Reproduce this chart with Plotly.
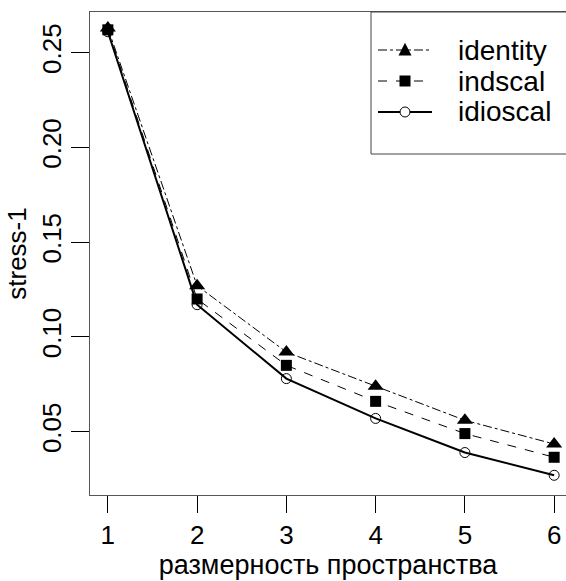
import plotly.graph_objects as go

dims = [1, 2, 3, 4, 5, 6]
identity = [0.263, 0.127, 0.092, 0.074, 0.056, 0.0435]
indscal = [0.262, 0.120, 0.085, 0.066, 0.049, 0.0365]
idioscal = [0.261, 0.117, 0.078, 0.057, 0.039, 0.027]
series_names = ["identity", "indscal", "idioscal"]
y_ticks = [0.05, 0.10, 0.15, 0.20, 0.25]
x_ticks = [1, 2, 3, 4, 5, 6]

W, H = 566, 581
L, R, T, B = 90, 0, 12, 86
PW, PH = W - L - R, H - T - B
FONT = "Liberation Sans, Arial, sans-serif"


def px(x):
    return (x - L) / PW


def py(y):
    return (H - B - y) / PH


fig = go.Figure()
fig.add_trace(go.Scatter(x=dims, y=identity, mode="lines+markers", name=series_names[0],
                         line=dict(color="black", width=1, dash="dashdot"),
                         marker=dict(symbol="triangle-up", size=14, color="black")))
fig.add_trace(go.Scatter(x=dims, y=indscal, mode="lines+markers", name=series_names[1],
                         line=dict(color="black", width=1, dash="dash"),
                         marker=dict(symbol="square", size=11, color="black")))
fig.add_trace(go.Scatter(x=dims, y=idioscal, mode="lines+markers", name=series_names[2],
                         line=dict(color="black", width=2),
                         marker=dict(symbol="circle-open", size=10, color="black",
                                     line=dict(width=1, color="black"))))

shapes = []
annotations = []
# legend box (extends past right edge like the reference)
shapes.append(dict(type="rect", xref="paper", yref="paper", x0=px(371), x1=px(600),
                   y0=py(154), y1=py(12), line=dict(color="#444", width=1),
                   fillcolor="white", layer="above"))
rows = [50, 81, 112]
dashes = ["dashdot", "dash", "solid"]
widths = [1, 1, 2]
for i, name in enumerate(series_names):
    yy = py(rows[i])
    shapes.append(dict(type="line", xref="paper", yref="paper", x0=px(378), x1=px(432),
                       y0=yy, y1=yy, line=dict(color="black", width=widths[i], dash=dashes[i]),
                       layer="above"))
    annotations.append(dict(xref="paper", yref="paper", x=px(456), y=yy, text=name,
                            showarrow=False, xanchor="left", yanchor="middle",
                            font=dict(family=FONT, size=28, color="black")))
# legend markers
cx = 405
r = 6.5
ty = rows[0]
shapes.append(dict(type="path", xref="paper", yref="paper",
                   path=f"M {px(cx - r)} {py(ty + r * 0.85)} L {px(cx + r)} {py(ty + r * 0.85)} L {px(cx)} {py(ty - r * 1.1)} Z",
                   fillcolor="black", line=dict(color="black", width=0), layer="above"))
s = 5.5
sy = rows[1]
shapes.append(dict(type="rect", xref="paper", yref="paper", x0=px(cx - s), x1=px(cx + s),
                   y0=py(sy + s), y1=py(sy - s), fillcolor="black",
                   line=dict(color="black", width=0), layer="above"))
c = 5
cy = rows[2]
shapes.append(dict(type="circle", xref="paper", yref="paper", x0=px(cx - c), x1=px(cx + c),
                   y0=py(cy + c), y1=py(cy - c), fillcolor="white",
                   line=dict(color="black", width=1), layer="above"))

fig.update_layout(
    width=W, height=H,
    margin=dict(l=L, r=R, t=T, b=B),
    paper_bgcolor="white", plot_bgcolor="white",
    showlegend=False,
    font=dict(family=FONT, size=26, color="black"),
    shapes=shapes, annotations=annotations,
    xaxis=dict(range=[0.8, 0.8 + 5.4 * 476 / 482], tickvals=x_ticks, ticktext=[str(v) for v in x_ticks],
               showgrid=False, zeroline=False, showline=True, mirror=True, linecolor="#555", linewidth=1,
               ticks="outside", ticklen=17, tickcolor="black", tickwidth=1,
               tickfont=dict(size=26), title=dict(text="размерность пространства", font=dict(size=27), standoff=0)),
    yaxis=dict(range=[0.0166, 0.2714], tickvals=y_ticks, ticktext=[f"{v:.2f}" for v in y_ticks],
               showgrid=False, zeroline=False, showline=True, mirror=True, linecolor="#555", linewidth=1,
               ticks="outside", ticklen=18, tickcolor="black", tickwidth=1, tickangle=-90,
               tickfont=dict(size=26), title=dict(text="stress-1", font=dict(size=26), standoff=2)),
)

fig.write_html("out.html")
